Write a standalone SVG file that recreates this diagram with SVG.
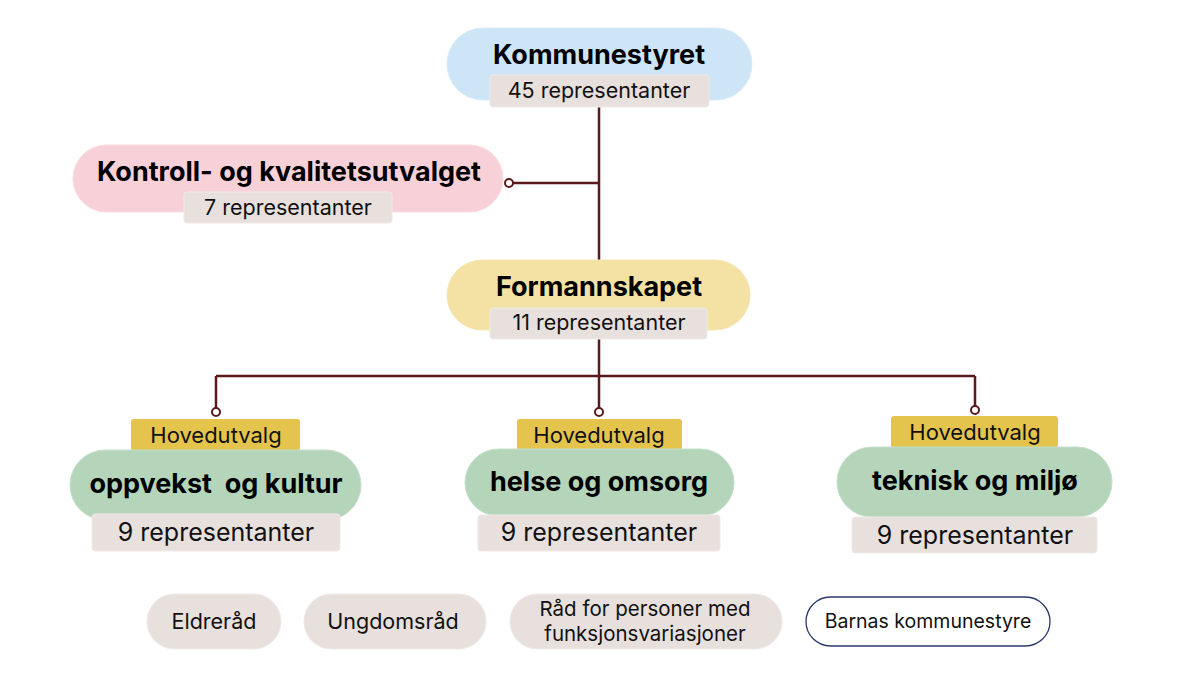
<svg xmlns="http://www.w3.org/2000/svg" width="1200" height="675" viewBox="0 0 1200 675">
<style>
.t{font-family:Inter,"Liberation Sans",sans-serif;font-weight:700;font-size:27px;fill:#000;text-anchor:middle}
.s{font-family:Inter,"Liberation Sans",sans-serif;font-size:21.5px;fill:#111;text-anchor:middle}
.n{font-family:Inter,"Liberation Sans",sans-serif;font-size:25px;fill:#111;text-anchor:middle}
.h{font-family:Inter,"Liberation Sans",sans-serif;font-size:22px;fill:#111;text-anchor:middle}
.b{font-family:Inter,"Liberation Sans",sans-serif;font-size:21.5px;fill:#111;text-anchor:middle}
.sub{fill:#e8e0dd;stroke:#efe9e6;stroke-width:1}
.hv{fill:#e4c44c}
.g{fill:#b5d5bb;stroke:#c4dfc8;stroke-width:1}
.c{fill:none;stroke:#5a1a1c;stroke-width:2.5}
.dot{fill:#fff;stroke:#5a1a1c;stroke-width:2}
</style>
<rect width="1200" height="675" fill="#fff"/>
<g id="connectors">
<path class="c" d="M599 107V260M599 183H509M599 339V376M216 376H975M216 376V412M599 376V412M975 376V410"/>
<circle class="dot" cx="509" cy="183" r="4"/>
<circle class="dot" cx="216" cy="412" r="4"/>
<circle class="dot" cx="599" cy="412" r="4"/>
<circle class="dot" cx="975" cy="410" r="4"/>
</g>
<g id="kommunestyret">
<rect x="447" y="28" width="305" height="72" rx="36" fill="#cde5f7" stroke="#d8ebf8"/>
<text class="t" x="599" y="64">Kommunestyret</text>
<rect class="sub" x="490" y="75" width="219" height="32" rx="3"/>
<text class="s" x="599" y="98">45 representanter</text>
</g>
<g id="kontroll">
<rect x="73" y="145" width="430" height="67" rx="33.5" fill="#f8d1d8" stroke="#f9dbe0"/>
<text class="t" x="289" y="181">Kontroll- og kvalitetsutvalget</text>
<rect class="sub" x="184" y="192" width="208" height="31" rx="3"/>
<text class="s" x="288" y="215">7 representanter</text>
</g>
<g id="formannskapet">
<rect x="447" y="260" width="303" height="70" rx="35" fill="#f4e1a4" stroke="#f6e6b3"/>
<text class="t" x="599" y="296">Formannskapet</text>
<rect class="sub" x="490" y="308" width="217" height="31" rx="3"/>
<text class="s" x="599" y="330">11 representanter</text>
</g>
<g id="oppvekst">
<rect class="hv" x="131" y="419" width="169" height="32" rx="3"/>
<text class="h" x="216" y="443">Hovedutvalg</text>
<rect class="g" x="70" y="450" width="291" height="70" rx="35"/>
<text class="t" x="216" y="493" xml:space="preserve">oppvekst  og kultur</text>
<rect class="sub" x="92" y="514" width="248" height="37" rx="3"/>
<text class="n" x="216" y="541">9 representanter</text>
</g>
<g id="helse">
<rect class="hv" x="517" y="419" width="165" height="32" rx="3"/>
<text class="h" x="599" y="443">Hovedutvalg</text>
<rect class="g" x="465" y="449" width="269" height="67" rx="33.5"/>
<text class="t" x="599" y="491">helse og omsorg</text>
<rect class="sub" x="478" y="515" width="242" height="36" rx="3"/>
<text class="n" x="599" y="541">9 representanter</text>
</g>
<g id="teknisk">
<rect class="hv" x="891" y="416" width="167" height="32" rx="3"/>
<text class="h" x="975" y="440">Hovedutvalg</text>
<rect class="g" x="837" y="447" width="275" height="70" rx="35"/>
<text class="t" x="975" y="490">teknisk og miljø</text>
<rect class="sub" x="852" y="517" width="245" height="36" rx="3"/>
<text class="n" x="975" y="544">9 representanter</text>
</g>
<g id="eldrerad">
<rect class="sub" x="147" y="594" width="134" height="55" rx="27.5"/>
<text class="b" x="214" y="629">Eldreråd</text>
</g>
<g id="ungdomsrad">
<rect class="sub" x="304" y="594" width="182" height="55" rx="27.5"/>
<text class="b" x="393" y="629">Ungdomsråd</text>
</g>
<g id="rad-funksjon">
<rect class="sub" x="510" y="594" width="272" height="55" rx="27.5"/>
<text class="b" x="645" y="616" style="font-size:20.5px">Råd for personer med</text>
<text class="b" x="645" y="641" style="font-size:20.5px">funksjonsvariasjoner</text>
</g>
<g id="barnas">
<rect x="806" y="597" width="244" height="49" rx="24.5" fill="#fff" stroke="#2c3a6c" stroke-width="1.3"/>
<text class="b" x="928" y="628" style="font-size:19.5px">Barnas kommunestyre</text>
</g>
</svg>
